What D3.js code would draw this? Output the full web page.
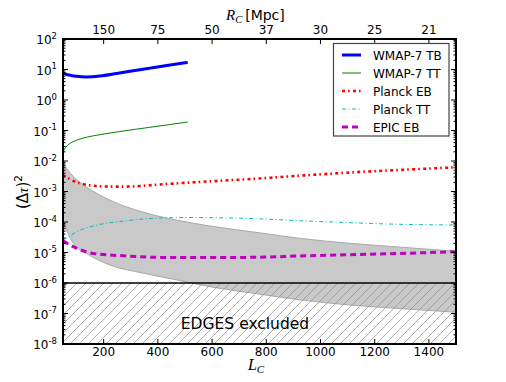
<!DOCTYPE html>
<html>
<head>
<meta charset="utf-8">
<script src="https://cdn.jsdelivr.net/npm/d3@7"></script>
<style>
  body { margin: 0; background: #fff; }
  svg { display: block; font-family: "DejaVu Sans", sans-serif; }
  .tick-label { font-size: 12px; fill: #000; }
  .legend text { font-size: 12px; }
  .math { font-family: "Liberation Serif", "DejaVu Serif", serif; font-style: italic; }
</style>
</head>
<body>
<div class="panel"></div>
<script>

// Data ///////////////////////////////

const wmapTB_L = [50, 60, 80, 100, 137, 186, 248, 309, 371, 433, 510];
const wmapTB = [7.8, 7.1, 6.4, 6.0, 5.7, 6.1, 7.4, 9.1, 11.1, 13.5, 17];

const wmapTT_L = [50, 56, 66, 80, 100, 140, 186, 250, 309, 370, 433, 510];
const wmapTT = [0.020, 0.025, 0.032, 0.040, 0.048, 0.061, 0.073, 0.09, 0.107, 0.127, 0.152, 0.19];

const planckEB_L = [50, 57, 80, 113, 160, 223, 285, 408, 531, 752, 925, 1109, 1293, 1500];
const planckEB = [3.5e-3, 3.2e-3, 2.4e-3, 1.86e-3, 1.55e-3, 1.45e-3, 1.45e-3, 1.7e-3, 2.0e-3, 2.6e-3, 3.3e-3, 4.2e-3, 5.1e-3, 6.2e-3];

const planckTT_L = [50, 64, 100, 162, 285, 408, 531, 740, 925, 1109, 1293, 1500];
const planckTT = [2.6e-5, 3.0e-5, 4.8e-5, 7.4e-5, 1.1e-4, 1.35e-4, 1.4e-4, 1.3e-4, 1.1e-4, 9.5e-5, 8.4e-5, 8.0e-5];

const epicEB_L = [50, 88, 162, 285, 408, 592, 777, 925, 1109, 1293, 1500];
const epicEB = [2.4e-5, 1.55e-5, 9.3e-6, 7.7e-6, 6.9e-6, 6.8e-6, 7.0e-6, 7.7e-6, 8.5e-6, 9.3e-6, 1.07e-5];

const band_L = [50, 88, 137, 223, 346, 470, 592, 777, 925, 1109, 1293, 1500];
const bandUpper = [8.5e-3, 3.1e-3, 1.4e-3, 5.2e-4, 2.1e-4, 1.15e-4, 7.4e-5, 4.4e-5, 2.9e-5, 2.0e-5, 1.5e-5, 1.1e-5];
const bandLower = [1.0e-4, 2.0e-5, 9.3e-6, 3.9e-6, 2.1e-6, 1.26e-6, 7.6e-7, 4.3e-7, 2.8e-7, 1.9e-7, 1.45e-7, 1.1e-7];

const edgesLimit = 1e-6;

const xTicks = [200, 400, 600, 800, 1000, 1200, 1400];
const topTickLabels = ["150", "75", "50", "37", "30", "25", "21"];
const yExponents = [-8, -7, -6, -5, -4, -3, -2, -1, 0, 1, 2];

const legendNames = ["WMAP-7 TB", "WMAP-7 TT", "Planck EB", "Planck TT", "EPIC EB"];

// Chart ////////////////////////////////////

const width = 506, height = 382;
const plotL = 63, plotR = 456, plotT = 39, plotB = 344;

const svg = d3.select(".panel").append("svg")
    .attr("width", width)
    .attr("height", height);

const x = d3.scaleLinear().domain([50, 1500]).range([plotL, plotR]);
const y = d3.scaleLog().domain([1e-8, 1e2]).range([plotB, plotT]);

const defs = svg.append("defs");

defs.append("clipPath")
    .attr("id", "clip")
  .append("rect")
    .attr("x", plotL).attr("y", plotT)
    .attr("width", plotR - plotL).attr("height", plotB - plotT);

defs.append("pattern")
    .attr("id", "hatch")
    .attr("patternUnits", "userSpaceOnUse")
    .attr("width", 9).attr("height", 9)
  .append("path")
    .attr("d", "M0,9 L9,0 M-2,2 L2,-2 M7,11 L11,7")
    .attr("stroke", "#8c8c8c")
    .attr("stroke-width", 0.7);

const plot = svg.append("g").attr("clip-path", "url(#clip)");

// Grey band

const bandRows = band_L.map((L, i) => ({ L, lo: bandLower[i], hi: bandUpper[i] }));

plot.append("path")
    .datum(bandRows)
    .attr("fill", "#c9c9c9")
    .attr("d", d3.area()
        .x(d => x(d.L))
        .y0(d => y(d.lo))
        .y1(d => y(d.hi))
        .curve(d3.curveMonotoneX));

["hi", "lo"].forEach(k => {
    plot.append("path")
        .datum(bandRows)
        .attr("fill", "none")
        .attr("stroke", "#a8a8a8")
        .attr("stroke-width", 1)
        .attr("d", d3.line().x(d => x(d.L)).y(d => y(d[k])).curve(d3.curveMonotoneX));
});

// EDGES excluded region

plot.append("rect")
    .attr("x", plotL)
    .attr("y", y(edgesLimit))
    .attr("width", plotR - plotL)
    .attr("height", y(1e-8) - y(edgesLimit))
    .attr("fill", "url(#hatch)");

plot.append("line")
    .attr("x1", plotL).attr("x2", plotR)
    .attr("y1", y(edgesLimit)).attr("y2", y(edgesLimit))
    .attr("stroke", "#000")
    .attr("stroke-width", 1.5);

svg.append("text")
    .attr("x", 245)
    .attr("y", 329)
    .attr("text-anchor", "middle")
    .attr("font-size", 15.5)
    .text("EDGES excluded");

// Curves

const series = [
    { L: wmapTB_L, v: wmapTB, color: "#0000ff", width: 3, dash: null },
    { L: wmapTT_L, v: wmapTT, color: "#008000", width: 1, dash: null },
    { L: planckEB_L, v: planckEB, color: "#ff0000", width: 2.6, dash: "3,3,1.6,3.4" },
    { L: planckTT_L, v: planckTT, color: "#00bfbf", width: 1, dash: "4,2.5,1,2.5" },
    { L: epicEB_L, v: epicEB, color: "#bf00bf", width: 3, dash: "6,4" }
];

const line = d3.line()
    .x(d => x(d[0]))
    .y(d => y(d[1]))
    .curve(d3.curveMonotoneX);

series.forEach(s => {
    plot.append("path")
        .datum(s.L.map((L, i) => [L, s.v[i]]))
        .attr("fill", "none")
        .attr("stroke", s.color)
        .attr("stroke-width", s.width)
        .attr("stroke-dasharray", s.dash)
        .attr("d", line);
});

// Frame and ticks

const axes = svg.append("g").attr("stroke", "#000");

xTicks.forEach(t => {
    axes.append("line").attr("x1", x(t)).attr("x2", x(t)).attr("y1", plotB).attr("y2", plotB - 5);
    axes.append("line").attr("x1", x(t)).attr("x2", x(t)).attr("y1", plotT).attr("y2", plotT + 5);
});

yExponents.forEach(e => {
    const yy = y(Math.pow(10, e));
    axes.append("line").attr("x1", plotL).attr("x2", plotL + 5).attr("y1", yy).attr("y2", yy);
    axes.append("line").attr("x1", plotR).attr("x2", plotR - 5).attr("y1", yy).attr("y2", yy);
    if (e < 2) {
        for (let m = 2; m < 10; m++) {
            const ym = y(m * Math.pow(10, e));
            axes.append("line").attr("x1", plotL).attr("x2", plotL + 2.5).attr("y1", ym).attr("y2", ym);
            axes.append("line").attr("x1", plotR).attr("x2", plotR - 2.5).attr("y1", ym).attr("y2", ym);
        }
    }
});

axes.append("rect")
    .attr("x", plotL).attr("y", plotT)
    .attr("width", plotR - plotL).attr("height", plotB - plotT)
    .attr("fill", "none")
    .attr("stroke-width", 2);

// Tick labels

svg.selectAll(".xlab")
    .data(xTicks)
    .join("text")
    .attr("class", "tick-label")
    .attr("x", d => x(d))
    .attr("y", 356)
    .attr("text-anchor", "middle")
    .text(d => d);

svg.selectAll(".toplab")
    .data(xTicks)
    .join("text")
    .attr("class", "tick-label")
    .attr("x", d => x(d))
    .attr("y", 34)
    .attr("text-anchor", "middle")
    .text((d, i) => topTickLabels[i]);

yExponents.forEach(e => {
    const t = svg.append("text")
        .attr("class", "tick-label")
        .attr("x", 57)
        .attr("y", y(Math.pow(10, e)) + 5)
        .attr("text-anchor", "end");
    t.append("tspan").text("10");
    t.append("tspan")
        .attr("dy", -5.5)
        .attr("font-size", 8.5)
        .text(e);
});

// Axis titles

const xTitle = svg.append("text")
    .attr("x", 256)
    .attr("y", 370)
    .attr("text-anchor", "middle")
    .attr("font-size", 16);
xTitle.append("tspan").attr("class", "math").text("L");
xTitle.append("tspan").attr("class", "math").attr("dy", 3).attr("font-size", 11).text("C");

const topTitle = svg.append("text")
    .attr("x", 226)
    .attr("y", 20)
    .attr("font-size", 15);
topTitle.append("tspan").attr("class", "math").text("R");
topTitle.append("tspan").attr("class", "math").attr("dy", 3).attr("font-size", 10.5).text("C");
topTitle.append("tspan").attr("dy", -3).attr("dx", 3).attr("font-size", 14).text("[Mpc]");

const yTitle = svg.append("text")
    .attr("transform", "translate(28,192) rotate(-90)")
    .attr("text-anchor", "middle")
    .attr("font-size", 15);
yTitle.append("tspan").text("(Δ");
yTitle.append("tspan").attr("class", "math").text("τ");
yTitle.append("tspan").text(")");
yTitle.append("tspan").attr("dy", -6).attr("font-size", 10.5).text("2");

// Legend

const legend = svg.append("g").attr("class", "legend");

legend.append("rect")
    .attr("x", 333.5).attr("y", 43.5)
    .attr("width", 115.5).attr("height", 92.5)
    .attr("fill", "#fff")
    .attr("stroke", "#444")
    .attr("stroke-width", 1.2);

series.forEach((s, i) => {
    const ly = 55 + i * 18;
    legend.append("line")
        .attr("x1", 342).attr("x2", 361)
        .attr("y1", ly).attr("y2", ly)
        .attr("stroke", s.color)
        .attr("stroke-width", s.width)
        .attr("stroke-dasharray", s.dash);
    legend.append("text")
        .attr("x", 373)
        .attr("y", ly + 4.5)
        .text(legendNames[i]);
});

</script>
</body>
</html>
